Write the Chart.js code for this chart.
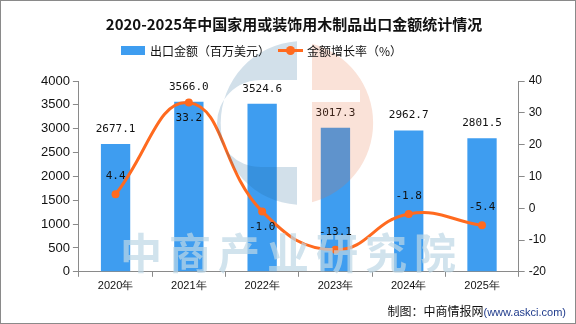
<!DOCTYPE html>
<html>
<head>
<meta charset="utf-8">
<script src="https://cdn.jsdelivr.net/npm/chart.js@4.4.1/dist/chart.umd.min.js"></script>
<style>
  html, body { margin: 0; padding: 0; background: #fff; }
  #wrap { position: relative; width: 576px; height: 324px; overflow: hidden; }
  #frame { position: absolute; left: 0; top: 0; width: 576px; height: 324px; box-sizing: border-box;
           border: 1px solid #8a8a8a; pointer-events: none; }
  #logo { position: absolute; left: 0; top: 0; pointer-events: none; }
  .legend { position: absolute; top: 40px; font: 12px "Noto Sans CJK SC", sans-serif; color: #111; white-space: nowrap; }
  .legend span { display: inline-block; vertical-align: middle; }
  .wm { position: absolute; left: 120px; top: 230px; font: bold 42px/1 "Noto Sans CJK SC", sans-serif;
        letter-spacing: 7px; color: rgba(190, 215, 230, 0.7); white-space: nowrap; pointer-events: none; }
  .src { position: absolute; right: 10px; top: 302px; font: 12px "Noto Sans CJK SC", sans-serif; color: #111; }
  .src em { font-style: normal; font-family: "Liberation Sans", sans-serif; font-size: 11px; color: #1f3b8c; }
</style>
</head>
<body>
<div id="wrap">
  <canvas id="c" width="576" height="324"></canvas>
  <!-- faint watermark logo -->
  <svg id="logo" width="576" height="324">
    <path fill-rule="evenodd" fill="rgba(30,100,150,0.2)"
          d="M297,41.2 A82,82 0 0 0 297,204.8 Z M297,80 L260.5,80 A43.5,43.5 0 0 0 260.5,167 L297,167 Z"/>
    <path fill-rule="evenodd" fill="rgba(230,110,60,0.2)"
          d="M312,43.7 A82,82 0 0 1 312,202.3 Z M312,90 L360,90 L360,102 L312,102 Z"/>
  </svg>
  <div class="wm">中商产业研究院</div>
  <div class="legend" style="left:121px">
    <span style="width:24px;height:9px;background:#3e9df0;margin-right:5px"></span><span>出口金额（百万美元）</span>
  </div>
  <div class="legend" style="left:278px">
    <span style="position:relative;width:25px;height:9px;margin-right:4px">
      <span style="position:absolute;left:0;top:3px;width:25px;height:3px;background:#ff6a1f"></span>
      <span style="position:absolute;left:8px;top:0;width:9px;height:9px;border-radius:50%;background:#ff6a1f"></span>
    </span><span>金额增长率（%）</span>
  </div>
  <div class="src">制图：中商情报网<em>(www.askci.com)</em></div>
  <div id="frame"></div>
</div>
<script>
const years = ['2020年', '2021年', '2022年', '2023年', '2024年', '2025年'];
const exportValue = [2677.1, 3566.0, 3524.6, 3017.3, 2962.7, 2801.5];
const growthRate = [4.4, 33.2, -1.0, -13.1, -1.8, -5.4];
// where the growth label sits: -1 above the point, 1 below
const rateLabelSide = [-1, 1, 1, -1, -1, -1];

const BAR = '#3e9df0';
const LINE = '#ff6a1f';
const AXIS = '#8a8a8a';

// draws the value labels next to bars and points
const valueLabels = {
    id: 'valueLabels',
    afterDatasetsDraw(chart) {
        const ctx = chart.ctx;
        ctx.save();
        ctx.font = '11px "DejaVu Sans Mono", monospace';
        ctx.fillStyle = '#111';
        ctx.textAlign = 'center';
        ctx.textBaseline = 'middle';
        chart.getDatasetMeta(1).data.forEach((el, i) => {
            ctx.fillText(exportValue[i].toFixed(1), el.x, el.y - 15);
        });
        chart.getDatasetMeta(0).data.forEach((el, i) => {
            const dy = rateLabelSide[i] < 0 ? -18 : 16;
            ctx.fillText(growthRate[i].toFixed(1), el.x, el.y + dy);
        });
        ctx.restore();
    }
};

new Chart(document.getElementById('c'), {
    data: {
        labels: years,
        datasets: [
            { type: 'line', label: '金额增长率（%）', data: growthRate, yAxisID: 'y1',
              borderColor: LINE, backgroundColor: LINE, borderWidth: 3, tension: 0.45,
              pointRadius: 4, pointBackgroundColor: LINE, pointBorderWidth: 0, order: 0 },
            { type: 'bar', label: '出口金额（百万美元）', data: exportValue, yAxisID: 'y',
              backgroundColor: BAR, barPercentage: 0.4, categoryPercentage: 1, order: 1 },
        ],
    },
    options: {
        responsive: false, animation: false,
        layout: { padding: { left: 38, right: 26, top: 0, bottom: 28 } },
        plugins: {
            legend: { display: false },
            tooltip: { enabled: false },
            title: { display: true, text: '2020-2025年中国家用或装饰用木制品出口金额统计情况',
                     color: '#111', font: { family: '"Noto Sans CJK SC"', size: 15, weight: 'bold' },
                     padding: { top: 15, bottom: 48 } },
        },
        scales: {
            x: {
                grid: { offset: true, drawOnChartArea: false, tickLength: 5, color: AXIS },
                border: { color: AXIS },
                ticks: { color: '#111', font: { family: '"Liberation Sans"', size: 11 }, padding: 3 },
            },
            y: {
                position: 'left', min: 0, max: 4000,
                grid: { drawOnChartArea: false, tickLength: 6, color: AXIS },
                border: { color: AXIS },
                ticks: { stepSize: 500, callback: v => String(v), color: '#111',
                         font: { family: '"Liberation Sans"', size: 13 }, padding: 3 },
            },
            y1: {
                position: 'right', min: -20, max: 40,
                grid: { drawOnChartArea: false, tickLength: 6, color: AXIS },
                border: { color: AXIS },
                ticks: { stepSize: 10, color: '#111', font: { family: '"Liberation Sans"', size: 12 }, padding: 4 },
            },
        },
    },
    plugins: [valueLabels],
});
</script>
</body>
</html>
